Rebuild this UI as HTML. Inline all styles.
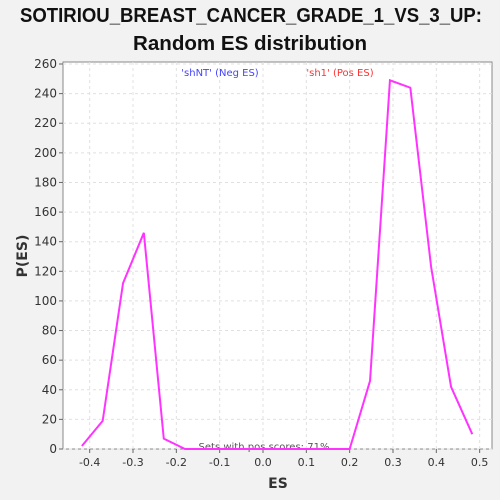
<!DOCTYPE html>
<html><head><meta charset="utf-8"><style>
html,body{margin:0;background:#f2f2f2;overflow:hidden;width:500px;height:500px}
svg{display:block}
svg text{font-family:"DejaVu Sans","Liberation Sans",sans-serif}
svg text.t{font-family:"Liberation Sans",sans-serif}
</style></head><body>
<svg id="c" width="500" height="500" xmlns="http://www.w3.org/2000/svg">
<rect width="500" height="500" fill="#f2f2f2"/>
<text class="t" x="20" y="22" textLength="462" lengthAdjust="spacingAndGlyphs" font-size="20" font-weight="bold" fill="#111">SOTIRIOU_BREAST_CANCER_GRADE_1_VS_3_UP:</text>
<text class="t" x="133" y="50" textLength="234" lengthAdjust="spacingAndGlyphs" font-size="20" font-weight="bold" fill="#111">Random ES distribution</text>
<rect x="63" y="62" width="429" height="387" fill="#fff" stroke="#888"/>
<g id="grid"></g><g id="axes"></g>
<text x="220" y="76" text-anchor="middle" font-size="10" fill="#4444ff">'shNT' (Neg ES)</text>
<text x="340" y="76" text-anchor="middle" font-size="10" fill="#ff3333">'sh1' (Pos ES)</text>
<text x="264" y="450" text-anchor="middle" font-size="10" fill="#555">Sets with pos scores: 71%</text>
<text x="278" y="488" text-anchor="middle" font-size="14" font-weight="bold" fill="#333">ES</text>
<text x="27" y="256" text-anchor="middle" font-size="14" font-weight="bold" fill="#333" transform="rotate(-90 27 256)">P(ES)</text>
</svg>
<script>
const esValues=[-0.418,-0.37,-0.323,-0.275,-0.229,-0.18,-0.133,-0.087,-0.04,0.006,0.053,0.1,0.147,0.2,0.247,0.293,0.34,0.388,0.434,0.483];
const densities=[2,19,112,146,7,0,0,0,0,0,0,0,0,0,46,249,244,123,42,10];
const xTicks=[-0.4,-0.3,-0.2,-0.1,0.0,0.1,0.2,0.3,0.4,0.5];
const yTicks=[0,20,40,60,80,100,120,140,160,180,200,220,240,260];
const NS="http://www.w3.org/2000/svg";
const X=v=>263+v*433.3;
const Y=v=>449-v*(385/260);
const g=document.getElementById('grid'),a=document.getElementById('axes'),svg=document.getElementById('c');
function mk(tag,at,par){const e=document.createElementNS(NS,tag);for(const k in at)e.setAttribute(k,at[k]);par.appendChild(e);return e;}
xTicks.forEach(t=>{
 const gl=mk('line',{x1:X(t),x2:X(t),y1:62,y2:449,stroke:'#e0e0e0','stroke-dasharray':'3,3'},g);
 
 
 const tk=mk('line',{x1:X(t),x2:X(t),y1:449,y2:453,stroke:'#666'},a);
 
 
 const tx=mk('text',{x:X(t),y:466,'text-anchor':'middle','font-size':11,fill:'#333'},a);
 tx.textContent=t.toFixed(1);
 
 
});
yTicks.forEach(t=>{
 const gl=mk('line',{x1:63,x2:492,y1:Y(t),y2:Y(t),stroke:'#e0e0e0','stroke-dasharray':'3,3'},g);
 
 
 const tk=mk('line',{x1:59,x2:63,y1:Y(t),y2:Y(t),stroke:'#666'},a);
 
 
 const tx=mk('text',{x:57,y:Y(t)+4,'text-anchor':'end','font-size':12,fill:'#333'},a);
 tx.textContent=t;
 
 
});
const pts=esValues.map((v,i)=>X(v)+','+Y(densities[i])).join(' ');
const line=mk('polyline',{points:pts,fill:'none',stroke:'#ff33ff','stroke-width':2},svg);


</script>
</body></html>
